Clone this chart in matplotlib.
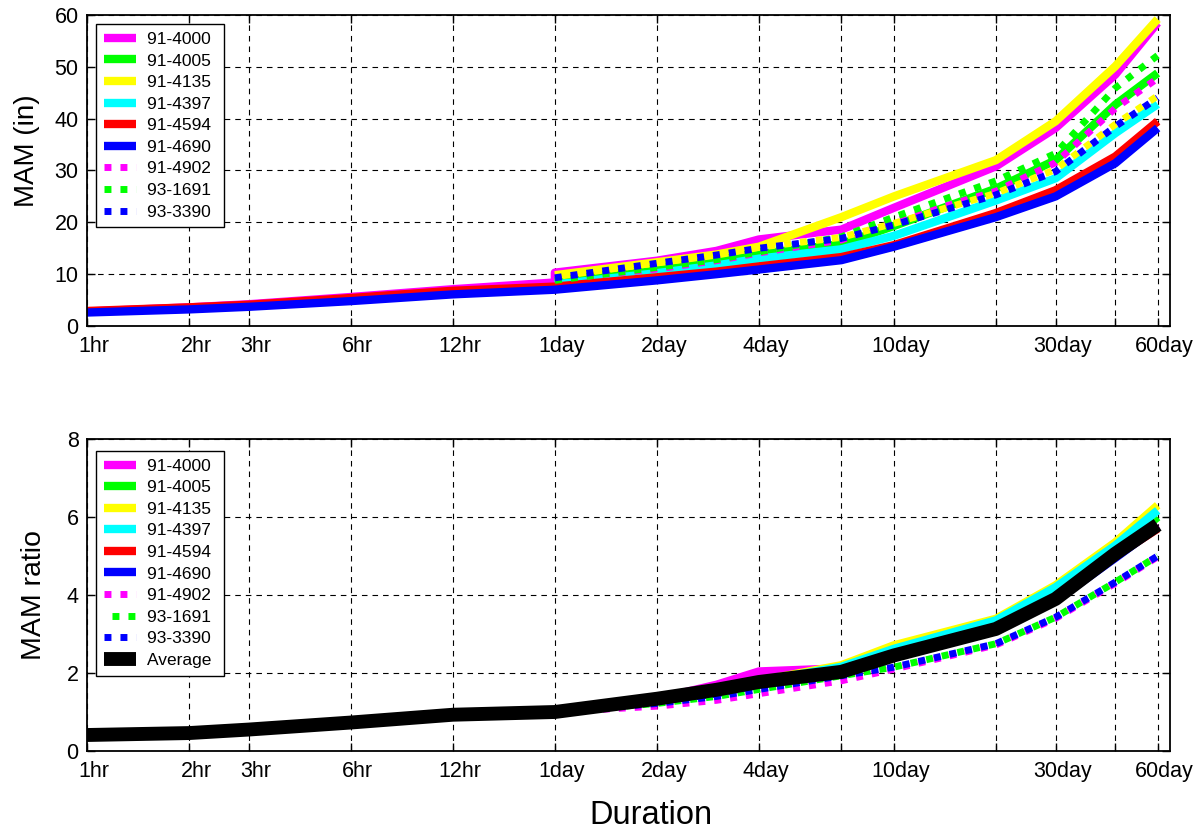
import matplotlib
matplotlib.use("Agg")
import matplotlib.pyplot as plt
from matplotlib.ticker import FixedLocator, FixedFormatter, NullLocator
from matplotlib.transforms import ScaledTranslation

plt.rcParams['font.family'] = ['Liberation Sans', 'DejaVu Sans']

# ---------------- data ----------------
dur_hourly = [1, 2, 3, 6, 12, 24]
dur_daily = [24, 48, 72, 96, 168, 240, 480, 720, 1080, 1440]

tick_pos = [1, 2, 3, 6, 12, 24, 48, 96, 168, 240, 480, 720, 1080, 1440]
tick_lab = ['1hr', '2hr', '3hr', '6hr', '12hr', '1day', '2day', '4day', '',
            '10day', '', '30day', '', '60day']

stations = ['91-4000', '91-4005', '91-4135', '91-4397', '91-4594',
            '91-4690', '91-4902', '93-1691', '93-3390']
colors = ['#ff00ff', '#00ff00', '#ffff00', '#00ffff', '#ff0000',
          '#0000ff', '#ff00ff', '#00ff00', '#0000ff']

# MAM (in)
mam_4000_hr = [2.8, 3.6, 4.2, 5.6, 7.1, 8.4]
mam_4000_dy = [10.3, 12.6, 14.5, 16.7, 18.6, 22.8, 30.8, 38.2, 48.5, 58.5]
mam_4005_dy = [8.5, 10.8, 12.4, 13.9, 15.8, 19.3, 26.5, 32.0, 42.7, 48.8]
mam_4135_dy = [9.8, 12.3, 13.8, 15.3, 21.0, 25.0, 32.0, 39.5, 50.1, 59.2]
mam_4397_dy = [8.0, 10.2, 11.7, 13.0, 14.8, 17.4, 24.2, 28.5, 37.2, 42.8]
mam_4594_hr = [2.9, 3.6, 4.1, 5.4, 6.8, 7.6]
mam_4594_dy = [7.6, 9.4, 10.5, 11.5, 13.3, 15.6, 21.8, 26.2, 32.7, 39.5]
mam_4690_hr = [2.6, 3.2, 3.7, 4.8, 6.1, 7.0]
mam_4690_dy = [7.0, 8.8, 10.0, 10.9, 12.7, 15.3, 21.0, 25.0, 31.4, 38.2]
mam_4902_dy = [9.0, 11.0, 12.6, 14.1, 16.6, 20.2, 26.0, 31.5, 42.0, 47.8]
mam_1691_dy = [8.8, 11.3, 12.8, 14.3, 17.2, 21.0, 28.0, 33.3, 45.9, 52.2]
mam_3390_dy = [9.3, 12.1, 13.7, 15.0, 16.9, 19.5, 25.3, 29.8, 38.5, 44.0]
mam_extra_yellow_dy = [9.5, 12.2, 13.8, 15.2, 17.1, 19.8, 25.6, 30.2, 38.9, 44.4]

# MAM ratio
ratio_avg_hr = [0.41, 0.46, 0.55, 0.73, 0.93, 1.0]
ratio_avg_dy = [1.0, 1.34, 1.57, 1.77, 2.03, 2.45, 3.13, 3.9, 5.06, 5.8]
ratio_4000_hr = [0.40, 0.46, 0.55, 0.73, 0.93, 1.0]
ratio_4000_dy = [1.0, 1.34, 1.70, 2.04, 2.12, 2.5, 3.2, 3.95, 5.0, 5.8]
ratio_4005_dy = [1.0, 1.30, 1.50, 1.72, 2.05, 2.45, 3.15, 3.95, 5.1, 6.0]
ratio_4135_dy = [1.0, 1.32, 1.56, 1.80, 2.20, 2.71, 3.39, 4.25, 5.35, 6.3]
ratio_4397_dy = [1.0, 1.31, 1.55, 1.78, 2.16, 2.62, 3.35, 4.2, 5.27, 6.17]
ratio_4594_hr = [0.42, 0.48, 0.57, 0.76, 0.96, 1.02]
ratio_4594_dy = [1.02, 1.30, 1.50, 1.72, 2.05, 2.45, 3.1, 3.85, 5.0, 5.7]
ratio_4690_hr = [0.40, 0.45, 0.54, 0.72, 0.92, 1.0]
ratio_4690_dy = [1.0, 1.28, 1.48, 1.70, 2.0, 2.4, 3.08, 3.85, 4.95, 5.75]
ratio_4902_dy = [1.0, 1.15, 1.30, 1.47, 1.8, 2.1, 2.72, 3.4, 4.3, 4.98]
ratio_1691_dy = [1.0, 1.22, 1.40, 1.58, 1.93, 2.15, 2.75, 3.43, 4.33, 5.0]
ratio_3390_dy = [1.0, 1.22, 1.40, 1.58, 1.93, 2.15, 2.75, 3.43, 4.33, 5.0]

# ---------------- figure ----------------
W, H = 1202, 831
fig = plt.figure(figsize=(W / 100, H / 100), dpi=100)

def ax_rect(l, r, t, b):
    return [l / W, 1 - b / H, (r - l) / W, (b - t) / H]

ax1 = fig.add_axes(ax_rect(87, 1170, 15, 326))
ax2 = fig.add_axes(ax_rect(87, 1170, 439, 751))

LW = 6
LW_DOT = 5
DOT = (0, (1.0, 1.3))
DOT_OFF = (1.15, (1.0, 1.3))

def solid(ax, x, y, c, label):
    ax.plot(x, y, color=c, lw=LW, solid_capstyle='butt', solid_joinstyle='round', label=label)

def dotted(ax, x, y, c, label, ls=DOT):
    ax.plot(x, y, color=c, lw=LW_DOT, linestyle=ls, dash_capstyle='butt', label=label)

# top panel
solid(ax1, dur_hourly + dur_daily, mam_4000_hr + mam_4000_dy, colors[0], stations[0])
solid(ax1, dur_daily, mam_4005_dy, colors[1], stations[1])
solid(ax1, dur_daily, mam_4135_dy, colors[2], stations[2])
solid(ax1, dur_daily, mam_4397_dy, colors[3], stations[3])
solid(ax1, dur_hourly + dur_daily[1:], mam_4594_hr + mam_4594_dy[1:], colors[4], stations[4])
solid(ax1, dur_hourly + dur_daily[1:], mam_4690_hr + mam_4690_dy[1:], colors[5], stations[5])
dotted(ax1, dur_daily, mam_4902_dy, colors[6], stations[6])
dotted(ax1, dur_daily, mam_1691_dy, colors[7], stations[7])
ax1.plot(dur_daily, mam_extra_yellow_dy, color='#ffff00', lw=LW_DOT, linestyle=DOT_OFF,
         dash_capstyle='butt', label='_nolegend_')
dotted(ax1, dur_daily, mam_3390_dy, colors[8], stations[8])

# bottom panel
solid(ax2, dur_hourly + dur_daily[1:], ratio_4000_hr + ratio_4000_dy[1:], colors[0], stations[0])
solid(ax2, dur_daily, ratio_4005_dy, colors[1], stations[1])
solid(ax2, dur_daily, ratio_4135_dy, colors[2], stations[2])
solid(ax2, dur_daily, ratio_4397_dy, colors[3], stations[3])
solid(ax2, dur_hourly + dur_daily[1:], ratio_4594_hr + ratio_4594_dy[1:], colors[4], stations[4])
solid(ax2, dur_hourly + dur_daily[1:], ratio_4690_hr + ratio_4690_dy[1:], colors[5], stations[5])
dotted(ax2, dur_daily, ratio_4902_dy, colors[6], stations[6])
dotted(ax2, dur_daily, ratio_1691_dy, colors[7], stations[7], ls=DOT_OFF)
dotted(ax2, dur_daily, ratio_3390_dy, colors[8], stations[8])
ax2.plot(dur_hourly + dur_daily[1:], ratio_avg_hr + ratio_avg_dy[1:], color='black', lw=10,
         solid_capstyle='butt', solid_joinstyle='round', label='Average')

TICK_FS = 15.5
shift = ScaledTranslation(7 / 100, 0, fig.dpi_scale_trans)
for ax, ymax, ystep in ((ax1, 60, 10), (ax2, 8, 2)):
    ax.set_xscale('log')
    ax.set_xlim(1, 1566)
    ax.set_ylim(0, ymax)
    ax.xaxis.set_major_locator(FixedLocator(tick_pos))
    ax.xaxis.set_major_formatter(FixedFormatter(tick_lab))
    ax.xaxis.set_minor_locator(NullLocator())
    ax.set_yticks(range(0, ymax + 1, ystep))
    ax.tick_params(direction='in', length=6, width=1, top=True, right=True,
                   labelsize=TICK_FS, pad=7, colors='black')
    ax.tick_params(axis='y', pad=6)
    for lab in ax.get_xticklabels():
        lab.set_transform(lab.get_transform() + shift)
    ax.grid(True, which='major', color='black', linestyle=(0, (5, 4.5)), linewidth=0.8)
    for s in ax.spines.values():
        s.set_linewidth(1.3)
        s.set_color('black')
    handles, labels = ax.get_legend_handles_labels()
    labels = [t + ' ' for t in labels]
    leg = ax.legend(handles, labels, loc='upper left',
                    bbox_to_anchor=(0.0083, 0.971 if ax is ax1 else 0.9625),
                    borderaxespad=0, fontsize=12.5, frameon=True, fancybox=False,
                    edgecolor='black', framealpha=1, handlelength=1.85, handletextpad=0.65,
                    labelspacing=0.37, borderpad=0.45)
    leg.get_frame().set_linewidth(1.0)

ax1.set_ylabel('MAM (in)', fontsize=20)
ax1.yaxis.set_label_coords((40 - 87) / (1170 - 87), (326 - 151) / (326 - 15))
ax2.set_ylabel('MAM ratio', fontsize=20.5, labelpad=14)
ax2.set_xlabel('Duration', fontsize=23.5)
ax2.xaxis.label.set_verticalalignment('center')
ax2.xaxis.set_label_coords((651 - 87) / (1170 - 87), (751 - 815) / (751 - 439))

fig.savefig('out.png', dpi=100)
